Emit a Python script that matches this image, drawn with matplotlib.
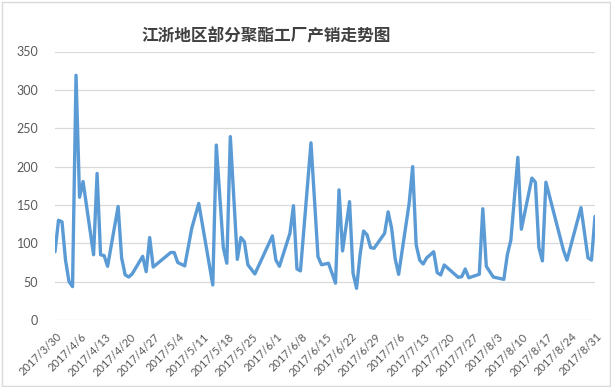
import matplotlib
matplotlib.use("Agg")
import matplotlib.pyplot as plt
import matplotlib.transforms as mtransforms
from matplotlib.patches import Rectangle
import pandas as pd

title = "江浙地区部分聚酯工厂产销走势图"

dates = [
    "2017-03-30", "2017-03-31", "2017-04-01", "2017-04-02", "2017-04-03", "2017-04-04", "2017-04-05", "2017-04-06", "2017-04-07",
    "2017-04-10", "2017-04-11", "2017-04-12", "2017-04-13", "2017-04-14",
    "2017-04-17", "2017-04-18", "2017-04-19", "2017-04-20", "2017-04-21",
    "2017-04-24", "2017-04-25", "2017-04-26", "2017-04-27",
    "2017-05-02", "2017-05-03", "2017-05-04", "2017-05-06", "2017-05-08", "2017-05-10",
    "2017-05-14", "2017-05-15", "2017-05-17", "2017-05-18", "2017-05-19",
    "2017-05-21", "2017-05-22", "2017-05-23", "2017-05-24", "2017-05-26",
    "2017-05-31", "2017-06-01", "2017-06-02",
    "2017-06-05", "2017-06-06", "2017-06-07", "2017-06-08",
    "2017-06-11", "2017-06-13", "2017-06-14", "2017-06-16",
    "2017-06-18", "2017-06-19", "2017-06-20",
    "2017-06-22", "2017-06-23", "2017-06-24", "2017-06-25", "2017-06-26", "2017-06-27", "2017-06-28", "2017-06-29",
    "2017-07-02", "2017-07-03", "2017-07-04", "2017-07-05", "2017-07-06",
    "2017-07-09", "2017-07-10", "2017-07-11", "2017-07-12", "2017-07-13", "2017-07-14",
    "2017-07-16", "2017-07-17", "2017-07-18", "2017-07-19",
    "2017-07-23", "2017-07-24", "2017-07-25", "2017-07-26",
    "2017-07-29", "2017-07-30", "2017-07-31", "2017-08-02",
    "2017-08-05", "2017-08-06", "2017-08-07", "2017-08-09", "2017-08-10",
    "2017-08-13", "2017-08-14", "2017-08-15", "2017-08-16", "2017-08-17",
    "2017-08-22", "2017-08-23", "2017-08-27", "2017-08-29", "2017-08-30", "2017-08-31",
]

values = [
    89, 130, 128, 78, 50, 43.5, 319, 160, 180.5,
    85, 191, 85, 84, 70,
    148, 81, 59, 56, 60,
    83, 63, 107.5, 69,
    88, 88, 75, 70.5, 119.6, 152,
    45.6, 228, 94.3, 74, 239,
    79, 107.5, 102, 72, 60,
    109.6, 78, 70,
    113, 149, 66.5, 64,
    231, 82.6, 72, 74,
    48, 169.6, 90,
    154.3, 61, 41.3, 85, 116, 111, 94.3, 93.5,
    113, 141, 119.6, 80, 59.5,
    152, 200, 98, 78, 73, 81,
    89, 61.7, 58.7, 71.7,
    55.6, 56.5, 66.5, 55,
    59.6, 145, 70, 56,
    53, 85, 104, 212, 118.3,
    185, 179.6, 94.3, 77, 179.6,
    91, 78, 146.5, 81, 78, 135,
]

tick_dates = [
    "2017-03-30", "2017-04-06", "2017-04-13", "2017-04-20", "2017-04-27", "2017-05-04",
    "2017-05-11", "2017-05-18", "2017-05-25", "2017-06-01", "2017-06-08", "2017-06-15",
    "2017-06-22", "2017-06-29", "2017-07-06", "2017-07-13", "2017-07-20", "2017-07-27",
    "2017-08-03", "2017-08-10", "2017-08-17", "2017-08-24", "2017-08-31",
]
tick_labels = [
    "2017/3/30", "2017/4/6", "2017/4/13", "2017/4/20", "2017/4/27", "2017/5/4",
    "2017/5/11", "2017/5/18", "2017/5/25", "2017/6/1", "2017/6/8", "2017/6/15",
    "2017/6/22", "2017/6/29", "2017/7/6", "2017/7/13", "2017/7/20", "2017/7/27",
    "2017/8/3", "2017/8/10", "2017/8/17", "2017/8/24", "2017/8/31",
]
y_ticks = [0, 50, 100, 150, 200, 250, 300, 350]

plt.rcParams['font.family'] = ['Lato', 'DejaVu Sans']

W, H = 611, 387
fig = plt.figure(figsize=(W / 100, H / 100), dpi=100)
ax = fig.add_axes([55 / W, 1 - 320 / H, 540 / W, (320 - 51.5) / H])

x = pd.to_datetime(dates)
ax.plot(x, values, color="#5B9BD5", lw=2.4, solid_joinstyle="round", solid_capstyle="round", zorder=3)

tx = pd.to_datetime(tick_dates)
ax.set_xlim(tx[0], tx[-1])
ax.set_ylim(0, 350)

ax.tick_params(axis="both", length=0)
ax.tick_params(axis="y", pad=12)
ax.tick_params(axis="x", pad=0)

ax.set_yticks(y_ticks)
ax.set_yticklabels([str(v) for v in y_ticks], color="#595959", fontsize=9)
ax.set_xticks(tx)
ax.set_xticklabels(tick_labels, color="#595959", fontsize=8, rotation=45,
                   ha="right", va="center", rotation_mode="anchor")
offset = mtransforms.ScaledTranslation(5 / 100, -15 / 100, fig.dpi_scale_trans)
for lab in ax.get_xticklabels():
    lab.set_transform(lab.get_transform() + offset)

for s in ax.spines.values():
    s.set_visible(False)
ax.grid(axis="y", color="#D9D9D9", lw=0.9, zorder=0)
ax.set_axisbelow(True)

fig.text(266 / W, 1 - 36 / H, title, ha="center", va="center", fontsize=12, fontweight="bold",
         color="#404040", family=["Noto Sans CJK SC", "DejaVu Sans"])

fig.patches.append(Rectangle((1.5 / W, 1.5 / H), (W - 3) / W, (H - 3) / H, transform=fig.transFigure,
                             fill=False, edgecolor="#D9D9D9", lw=1))

fig.savefig("out.png", dpi=100)
